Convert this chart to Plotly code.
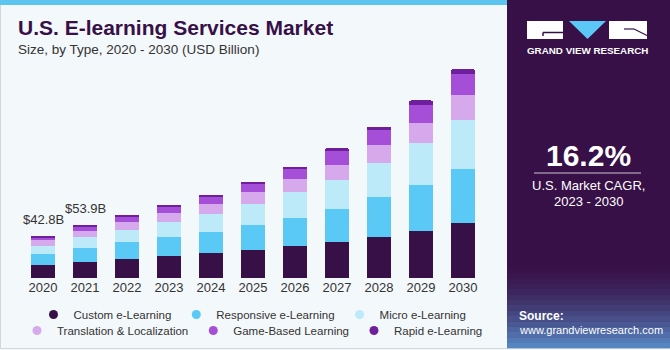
import plotly.graph_objects as go

# ---------------- data ----------------
years = ["2020", "2021", "2022", "2023", "2024", "2025", "2026", "2027", "2028", "2029", "2030"]
custom = [13.4, 16.8, 19.5, 22.5, 25.6, 28.6, 32.3, 36.4, 42.0, 48.1, 55.6]
responsive = [11.1, 14.1, 16.9, 19.5, 21.5, 25.6, 28.9, 33.6, 39.8, 45.9, 55.1]
micro = [8.1, 10.5, 12.4, 14.5, 17.6, 20.9, 25.7, 29.6, 34.3, 42.0, 49.2]
translation = [6.1, 6.7, 8.4, 9.1, 10.7, 11.8, 13.4, 15.2, 18.2, 20.9, 24.9]
game = [2.3, 3.4, 5.0, 6.1, 6.8, 8.4, 10.1, 14.1, 15.5, 18.2, 21.2]
rapid = [1.7, 2.3, 1.7, 2.3, 2.3, 2.3, 2.3, 2.4, 3.3, 4.3, 5.0]

series_names = ["Custom e-Learning", "Responsive e-Learning", "Micro e-Learning",
                "Translation & Localization", "Game-Based Learning", "Rapid e-Learning"]
series_values = [custom, responsive, micro, translation, game, rapid]
series_colors = ["#371047", "#5BC9F5", "#BDEAF9", "#D6A9EC", "#A54FD8", "#6E1F9C"]

label_years = ["2020", "2021"]
label_texts = ["$42.8B", "$53.9B"]

cagr_text = "16.2%"

# ---------------- layout geometry (pixels -> paper fractions) ----------------
W, H = 670, 350


def px(x):
    return x / W


def py(y):
    return 1 - y / H


PLOT_L, PLOT_R = 22, 484       # x-axis domain in pixels
PLOT_T, PLOT_B = 50.3, 278.3   # y-axis domain in pixels

FONT = "Liberation Sans, Arial, sans-serif"
BG = "#F3F8FB"
PANEL = "#371047"

fig = go.Figure()

for name, vals, col in zip(series_names, series_values, series_colors):
    fig.add_trace(go.Bar(
        x=years, y=vals, name=name, marker_color=col, marker_line_width=0,
        width=0.58, showlegend=False, legendgroup=name,
    ))

# legend entries with circle markers (two centred rows)
for i, (name, col) in enumerate(zip(series_names, series_colors)):
    fig.add_trace(go.Scatter(
        x=[None], y=[None], mode="markers", name=name, legendgroup=name,
        legend="legend" if i < 3 else "legend2",
        marker=dict(color=col, size=9, symbol="circle"), showlegend=True,
    ))

shapes = []
annotations = []

# outer border
shapes.append(dict(type="rect", xref="paper", yref="paper",
                   x0=px(0.5), x1=px(669.5), y0=py(348.5), y1=py(0.5),
                   line=dict(color="#D3D6D9", width=1), fillcolor=BG, layer="below"))
# top stripe
shapes.append(dict(type="rect", xref="paper", yref="paper",
                   x0=px(0), x1=px(507), y0=py(5), y1=py(0),
                   line=dict(width=0), fillcolor="#5CC5EF", layer="below"))
# right panel
shapes.append(dict(type="rect", xref="paper", yref="paper",
                   x0=px(507), x1=px(670), y0=py(348), y1=py(0),
                   line=dict(width=0), fillcolor=PANEL, layer="below"))
# panel bottom gradient
c0 = (55, 16, 71)
c1 = (88, 140, 200)
n = 16
y_start, y_end = 262, 348
for i in range(n):
    t = (i + 0.5) / n
    f = t ** 1.6
    c = tuple(int(round(c0[k] + (c1[k] - c0[k]) * f)) for k in range(3))
    ya = y_start + (y_end - y_start) * i / n
    yb = y_start + (y_end - y_start) * (i + 1) / n
    shapes.append(dict(type="rect", xref="paper", yref="paper",
                       x0=px(507), x1=px(670), y0=py(yb + 0.3), y1=py(ya),
                       line=dict(width=0), fillcolor="rgb(%d,%d,%d)" % c, layer="below"))

# logo
shapes.append(dict(type="rect", xref="paper", yref="paper",
                   x0=px(527), x1=px(563), y0=py(39), y1=py(21),
                   line=dict(width=0), fillcolor="white", layer="above"))
shapes.append(dict(type="rect", xref="paper", yref="paper",
                   x0=px(609), x1=px(647), y0=py(39), y1=py(21),
                   line=dict(width=0), fillcolor="white", layer="above"))
tri = "M %f,%f L %f,%f L %f,%f Z" % (px(569), py(21), px(606), py(21), px(587.5), py(39))
shapes.append(dict(type="path", xref="paper", yref="paper", path=tri,
                   line=dict(width=0), fillcolor="#5BC8F5", layer="above"))
shapes.append(dict(type="line", xref="paper", yref="paper",
                   x0=px(543), x1=px(563), y0=py(32.5), y1=py(32.5),
                   line=dict(color=PANEL, width=1.5), layer="above"))
shapes.append(dict(type="line", xref="paper", yref="paper",
                   x0=px(543), x1=px(543), y0=py(32.5), y1=py(36),
                   line=dict(color=PANEL, width=1.5), layer="above"))
shapes.append(dict(type="line", xref="paper", yref="paper",
                   x0=px(624), x1=px(634), y0=py(29), y1=py(29),
                   line=dict(color=PANEL, width=1.2), layer="above"))
shapes.append(dict(type="line", xref="paper", yref="paper",
                   x0=px(634), x1=px(647), y0=py(29), y1=py(35.5),
                   line=dict(color=PANEL, width=1.2), layer="above"))
# CAGR divider line
shapes.append(dict(type="line", xref="paper", yref="paper",
                   x0=px(534), x1=px(641), y0=py(173), y1=py(173),
                   line=dict(color="rgba(255,255,255,0.75)", width=1), layer="above"))


def txt(text, x, y, size, color="white", bold=False, xanchor="center", family=FONT):
    annotations.append(dict(
        text=("<b>%s</b>" % text) if bold else text, xref="paper", yref="paper",
        x=px(x), y=py(y), xanchor=xanchor, yanchor="middle", showarrow=False,
        font=dict(family=family, size=size, color=color)))


txt("U.S. E-learning Services Market", 16, 28, 21, color="#371047", bold=True, xanchor="left")
txt("Size, by Type, 2020 - 2030 (USD Billion)", 16, 49, 13.5, color="#333333", xanchor="left")
txt("GRAND VIEW RESEARCH", 587, 51, 9.8, bold=True)
txt(cagr_text, 588, 155, 30, bold=True)
txt("U.S. Market CAGR,", 588, 185, 13)
txt("2023 - 2030", 588, 201, 13)
txt("Source:", 517, 316, 12, bold=True, xanchor="left")
txt("www.grandviewresearch.com", 517, 330, 11, xanchor="left")

# value labels above first bars
totals = [sum(v[i] for v in series_values) for i in range(len(years))]
for yr, lab in zip(label_years, label_texts):
    idx = years.index(yr)
    annotations.append(dict(
        text=lab, x=idx, y=totals[idx], xref="x", yref="y", xanchor="center",
        yanchor="bottom", yshift=7, showarrow=False,
        font=dict(family=FONT, size=13, color="#333333")))

legend_common = dict(orientation="h", xanchor="center", yanchor="top",
                     traceorder="normal", bgcolor="rgba(0,0,0,0)",
                     font=dict(size=11.5, color="#333333", family=FONT),
                     itemsizing="trace")

fig.update_layout(
    width=W, height=H,
    margin=dict(l=0, r=0, t=0, b=0, pad=0, autoexpand=False),
    paper_bgcolor=BG, plot_bgcolor="rgba(0,0,0,0)",
    barmode="stack", barcornerradius=2,
    font=dict(family=FONT, color="#333333"),
    shapes=shapes, annotations=annotations,
    xaxis=dict(type="category", categoryorder="array", categoryarray=years,
               domain=[px(PLOT_L), px(PLOT_R)],
               showgrid=False, zeroline=False, showline=False, ticks="",
               tickfont=dict(size=13, color="#333333", family=FONT),
               range=[-0.5, 10.5], fixedrange=True, automargin=False),
    yaxis=dict(range=[0, 230], domain=[py(PLOT_B), py(PLOT_T)], visible=False,
               showgrid=False, fixedrange=True, automargin=False),
    legend=dict(x=px(252.5), y=py(300), **legend_common),
    legend2=dict(x=px(252.5), y=py(316), **legend_common),
    showlegend=True,
)

fig.write_html("out.html")
